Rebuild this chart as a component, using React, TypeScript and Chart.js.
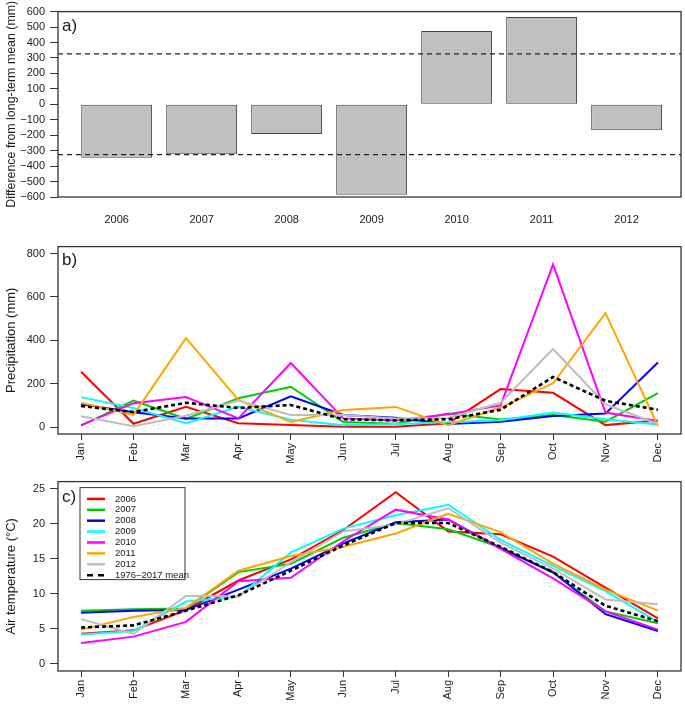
import React, { useEffect, useRef } from "react";
import { Chart, registerables } from "chart.js";

Chart.register(...registerables);

// ---------- data ----------
const years = ["2006", "2007", "2008", "2009", "2010", "2011", "2012"];
const yearValues = [2006, 2007, 2008, 2009, 2010, 2011, 2012];
const anomaly = [-346, -323, -193, -586, 475, 565, -168];
const threshold = 326;
const anomalyTicks = [-600, -500, -400, -300, -200, -100, 0, 100, 200, 300, 400, 500, 600];

const months = ["Jan", "Feb", "Mar", "Apr", "May", "Jun", "Jul", "Aug", "Sep", "Oct", "Nov", "Dec"];
const seriesLabels = ["2006", "2007", "2008", "2009", "2010", "2011", "2012", "1976\u20132017 mean"];

const precip2006 = [255, 15, 93, 18, 10, 2, 2, 17, 175, 158, 9, 30];
const precip2007 = [7, 122, 38, 133, 186, 23, 15, 62, 35, 56, 25, 157];
const precip2008 = [105, 68, 40, 40, 142, 56, 43, 14, 25, 51, 62, 298];
const precip2009 = [138, 88, 18, 93, 34, 8, 14, 22, 31, 67, 36, 12];
const precip2010 = [9, 110, 138, 40, 295, 40, 30, 59, 100, 750, 67, 28];
const precip2011 = [112, 56, 410, 125, 23, 79, 93, 9, 90, 202, 525, 5];
const precip2012 = [50, 4, 52, 122, 56, 56, 40, 42, 112, 360, 105, 14];
const precipMean = [97, 69, 112, 88, 102, 36, 31, 36, 80, 231, 121, 80];
const precipTicks = [0, 200, 400, 600, 800];

const temp2006 = [4.3, 4.8, 7.7, 11.9, 14.9, 19.1, 24.5, 18.9, 18.5, 15.3, 10.9, 6.5];
const temp2007 = [7.6, 7.8, 7.9, 13.1, 14.3, 18.0, 20.1, 19.2, 16.6, 13.0, 7.5, 5.8];
const temp2008 = [7.3, 7.6, 7.7, 10.6, 13.6, 17.2, 20.2, 20.6, 16.5, 13.1, 7.1, 4.7];
const temp2009 = [4.2, 4.7, 8.9, 9.6, 15.9, 19.3, 21.2, 22.7, 17.7, 14.0, 10.4, 6.0];
const temp2010 = [3.0, 3.9, 6.0, 11.8, 12.3, 17.5, 22.0, 20.6, 16.4, 12.2, 7.5, 4.9];
const temp2011 = [4.9, 6.7, 8.0, 13.3, 15.4, 16.7, 18.6, 21.4, 18.8, 14.3, 10.6, 7.6];
const temp2012 = [6.4, 4.3, 9.7, 9.7, 14.5, 18.9, 19.9, 22.2, 17.3, 13.6, 9.2, 8.5];
const tempMean = [5.2, 5.5, 7.6, 9.8, 13.3, 16.9, 20.1, 20.1, 16.7, 13.1, 8.3, 6.1];
const tempTicks = [0, 5, 10, 15, 20, 25];

// ---------- styles ----------
const FONT = "'Liberation Sans', Arial, Helvetica, sans-serif";
const INK = "#333333";
const TEXT = "#1a1a1a";
const seriesColors = ["#ff0000", "#00cd00", "#0000ff", "#00ffff", "#ff00ff", "#ffa500", "#bebebe", "#000000"];

const W = 685;
const H = 235;

const fmtNum = (v: number) => (v < 0 ? "\u2212" + Math.abs(v) : String(v));

const decoPlugin = {
  id: "deco",
  afterDraw(chart: any, _args: any, opts: any) {
    const { ctx, chartArea: ca } = chart;
    ctx.save();
    ctx.setLineDash([]);
    ctx.strokeStyle = INK;
    ctx.lineWidth = 1.3;
    ctx.strokeRect(ca.left, ca.top, ca.right - ca.left, ca.bottom - ca.top);
    ctx.fillStyle = TEXT;
    ctx.font = `17px ${FONT}`;
    ctx.textBaseline = "top";
    ctx.textAlign = "left";
    ctx.fillText(opts.label, ca.left + 4, ca.top + opts.labelDy);
    if (opts.legend) {
      const lx = ca.left + 22;
      const ly = ca.top + 6;
      const lw = 105;
      const lh = 92;
      ctx.fillStyle = "#ffffff";
      ctx.fillRect(lx, ly, lw, lh);
      ctx.strokeStyle = INK;
      ctx.lineWidth = 1;
      ctx.strokeRect(lx, ly, lw, lh);
      chart.data.datasets.forEach((ds: any, i: number) => {
        const y = ly + 11.3 + i * 10.9;
        ctx.beginPath();
        ctx.setLineDash(ds.borderDash && ds.borderDash.length ? [6, 5] : []);
        ctx.strokeStyle = ds.borderColor;
        ctx.lineWidth = 2.5;
        ctx.moveTo(lx + 7, y);
        ctx.lineTo(lx + 25, y);
        ctx.stroke();
        ctx.setLineDash([]);
        ctx.fillStyle = TEXT;
        ctx.font = `9.5px ${FONT}`;
        ctx.textBaseline = "middle";
        ctx.fillText(ds.label, lx + 35, y);
      });
    }
    ctx.restore();
  },
};

function yScale(ticksArr: number[], min: number, max: number, title: string, titleSize: number) {
  return {
    type: "linear",
    position: "left",
    min,
    max,
    afterBuildTicks: (s: any) => {
      s.ticks = ticksArr.map((v) => ({ value: v }));
    },
    afterFit: (s: any) => {
      s.width = 58;
    },
    border: { display: false },
    grid: { display: true, drawOnChartArea: false, drawTicks: true, tickLength: 8, color: INK, lineWidth: 1 },
    ticks: {
      autoSkip: false,
      color: TEXT,
      font: { family: FONT, size: 11 },
      padding: 5,
      callback: (v: number) => fmtNum(v),
    },
    title: {
      display: true,
      text: title,
      color: TEXT,
      font: { family: FONT, size: titleSize },
      padding: { top: 4, bottom: 0 },
    },
  };
}

function monthScale(height: number) {
  return {
    type: "linear",
    position: "bottom",
    min: 0.56,
    max: 12.44,
    offset: false,
    afterBuildTicks: (s: any) => {
      s.ticks = months.map((_, i) => ({ value: i + 1 }));
    },
    afterFit: (s: any) => {
      s.height = height;
    },
    border: { display: false },
    grid: { display: true, drawOnChartArea: false, drawTicks: true, tickLength: 6, color: INK, lineWidth: 1 },
    ticks: {
      autoSkip: false,
      maxRotation: 90,
      minRotation: 90,
      padding: 3,
      color: TEXT,
      font: { family: FONT, size: 11 },
      callback: (_v: number, i: number) => months[i],
    },
  };
}

function lineDatasets(series: number[][], lw: number) {
  return series.map((vals, i) => {
    const isMean = i === series.length - 1;
    return {
      type: "line",
      label: seriesLabels[i],
      data: vals.map((v, j) => ({ x: j + 1, y: v })),
      borderColor: seriesColors[i],
      backgroundColor: seriesColors[i],
      borderWidth: isMean ? 2.6 : lw,
      borderDash: isMean ? [4, 3] : [],
      pointRadius: 0,
      tension: 0,
      fill: false,
      order: series.length - i,
    };
  });
}

function configA(): any {
  const xMin = 2005.31;
  const xMax = 2012.64;
  return {
    type: "bar",
    data: {
      datasets: [
        {
          type: "line",
          data: [
            { x: xMin, y: threshold },
            { x: xMax, y: threshold },
          ],
          borderColor: "#222",
          borderWidth: 1.2,
          borderDash: [5, 4],
          pointRadius: 0,
          order: 0,
        },
        {
          type: "line",
          data: [
            { x: xMin, y: -threshold },
            { x: xMax, y: -threshold },
          ],
          borderColor: "#222",
          borderWidth: 1.2,
          borderDash: [5, 4],
          pointRadius: 0,
          order: 0,
        },
        {
          type: "bar",
          data: yearValues.map((x, i) => ({ x, y: anomaly[i] })),
          backgroundColor: "#c0c0c0",
          borderColor: "#444",
          borderWidth: 1,
          borderSkipped: false,
          barPercentage: 0.834,
          categoryPercentage: 1,
          order: 1,
        },
      ],
    },
    options: {
      responsive: false,
      animation: false,
      layout: { padding: { top: 5, right: 4, left: 0, bottom: 0 } },
      plugins: {
        legend: { display: false },
        tooltip: { enabled: false },
        deco: { label: "a)", labelDy: 6, legend: false },
      },
      scales: {
        x: {
          type: "linear",
          position: "bottom",
          min: xMin,
          max: xMax,
          offset: false,
          afterBuildTicks: (s: any) => {
            s.ticks = yearValues.map((v) => ({ value: v }));
          },
          afterFit: (s: any) => {
            s.height = H - 197;
          },
          border: { display: false },
          grid: { display: false },
          ticks: {
            autoSkip: false,
            maxRotation: 0,
            minRotation: 0,
            padding: 8,
            color: TEXT,
            font: { family: FONT, size: 11 },
            callback: (_v: number, i: number) => years[i],
          },
        },
        y: yScale(anomalyTicks, -600, 600, "Difference from long-term mean (mm)", 12.4),
      },
    },
    plugins: [decoPlugin],
  };
}

function configLines(series: number[][], yMin: number, yMax: number, ticksArr: number[], title: string, top: number, bottom: number, label: string, labelDy: number, legend: boolean): any {
  return {
    type: "line",
    data: { datasets: lineDatasets(series, 2) },
    options: {
      responsive: false,
      animation: false,
      layout: { padding: { top, right: 4, left: 0, bottom: 0 } },
      plugins: {
        legend: { display: false },
        tooltip: { enabled: false },
        deco: { label, labelDy, legend },
      },
      scales: {
        x: monthScale(H - bottom),
        y: yScale(ticksArr, yMin, yMax, title, 13),
      },
    },
    plugins: [decoPlugin],
  };
}

function ChartCanvas({ make, top }: { make: () => any; top: number }) {
  const ref = useRef<HTMLCanvasElement | null>(null);
  useEffect(() => {
    if (!ref.current) return;
    const chart = new Chart(ref.current, make());
    return () => chart.destroy();
  }, []);
  return (
    <canvas
      ref={ref}
      width={W}
      height={H}
      style={{ position: "absolute", left: 0, top, width: W, height: H }}
    />
  );
}

export default function App() {
  const precipSeries = [precip2006, precip2007, precip2008, precip2009, precip2010, precip2011, precip2012, precipMean];
  const tempSeries = [temp2006, temp2007, temp2008, temp2009, temp2010, temp2011, temp2012, tempMean];
  return (
    <div style={{ position: "absolute", left: 0, top: 0, width: W, height: 705, background: "#ffffff" }}>
      <ChartCanvas top={0} make={configA} />
      <ChartCanvas
        top={235}
        make={() => configLines(precipSeries, -32, 832, precipTicks, "Precipitation (mm)", 8, 199, "b)", 5, false)}
      />
      <ChartCanvas
        top={470}
        make={() => configLines(tempSeries, -1, 26, tempTicks, "Air temperature (\u00B0C)", 10, 201, "c)", 7, true)}
      />
    </div>
  );
}
